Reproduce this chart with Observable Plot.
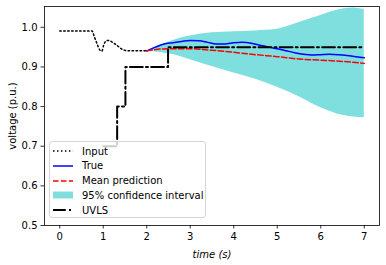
<!DOCTYPE html>
<html><head><meta charset="utf-8">
<script src="https://cdn.jsdelivr.net/npm/d3@7"></script>
<script src="https://cdn.jsdelivr.net/npm/@observablehq/plot@0.6"></script>
<style>
body{margin:0;background:#fff;font-family:"DejaVu Sans",sans-serif;}
#wrap{position:relative;width:386px;height:265px;}
#legend{position:absolute;left:49px;top:141px;width:157px;height:77px;background:rgba(255,255,255,0.8);border:1px solid #d6d6d6;border-radius:3px;box-sizing:border-box;font-size:10px;color:#000;}
.row{position:absolute;left:0;height:14px;display:flex;align-items:center;}
.row svg{margin-left:3px;width:20px;height:10px;}
.row span{margin-left:9px;white-space:nowrap;}
</style>
</head><body>
<div id="wrap"><div id="chart"></div><div id="legend"></div></div>
<script>
// Input (dotted)
const inputT = [0, 0.74, 0.80, 0.86, 0.92, 0.97, 1.01, 1.06, 1.12, 1.20, 1.32, 1.43, 1.55, 2.0];
const inputV = [0.991, 0.991, 0.975, 0.958, 0.943, 0.940, 0.955, 0.965, 0.967, 0.963, 0.954, 0.945, 0.941, 0.941];
// True
const trueT = [2.0, 2.2, 2.4, 2.6, 2.8, 3.0, 3.2, 3.4, 3.6, 3.8, 4.0, 4.2, 4.4, 4.6, 4.8, 5.0, 5.2, 5.4, 5.6, 5.8, 6.0, 6.2, 6.4, 6.6, 6.8, 7.0];
const trueV = [0.940, 0.950, 0.958, 0.961, 0.964, 0.967, 0.966, 0.962, 0.958, 0.958, 0.961, 0.962, 0.960, 0.955, 0.950, 0.946, 0.941, 0.936, 0.932, 0.930, 0.931, 0.932, 0.931, 0.929, 0.926, 0.923];
// Mean prediction
const meanT = [2.0, 2.5, 3.0, 3.5, 4.0, 4.5, 5.0, 5.5, 6.0, 6.5, 7.0];
const meanV = [0.941, 0.946, 0.946, 0.942, 0.937, 0.931, 0.926, 0.920, 0.917, 0.914, 0.909];
// 95% confidence interval
const bandT = [2.0, 2.25, 2.5, 2.75, 3.0, 3.5, 4.0, 4.5, 5.0, 5.5, 6.0, 6.5, 6.75, 7.0];
const bandLo = [0.940, 0.937, 0.933, 0.927, 0.918, 0.901, 0.885, 0.869, 0.849, 0.825, 0.797, 0.778, 0.774, 0.772];
const bandHi = [0.940, 0.952, 0.963, 0.972, 0.978, 0.986, 0.989, 0.991, 0.995, 1.012, 1.030, 1.046, 1.049, 1.045];
// UVLS (step)
const uvlsT = [1.0, 1.32, 1.51, 2.49, 7.0];
const uvlsV = [0.70, 0.80, 0.90, 0.95, 0.95];
// ticks
const xTicks = [0, 1, 2, 3, 4, 5, 6, 7];
const yTicks = [0.5, 0.6, 0.7, 0.8, 0.9, 1.0];

const input = inputT.map((t, i) => ({t, v: inputV[i]}));
const tru = trueT.map((t, i) => ({t, v: trueV[i]}));
const mean = meanT.map((t, i) => ({t, v: meanV[i]}));
const band = bandT.map((t, i) => ({t, lo: bandLo[i], hi: bandHi[i]}));
const uvls = uvlsT.map((t, i) => ({t, v: uvlsV[i]}));

const svg = Plot.plot({
  width: 386, height: 265,
  marginLeft: 44, marginRight: 7, marginTop: 6, marginBottom: 40,
  style: {fontFamily: "DejaVu Sans", fontSize: "10px", background: "white", color: "black"},
  x: {domain: [-0.35, 7.35]},
  y: {domain: [0.5, 1.0525]},
  marks: [
    Plot.areaY(band, {x: "t", y1: "lo", y2: "hi", fill: "#00bfbf", fillOpacity: 0.5, curve: "monotone-x"}),
    Plot.line(input, {x: "t", y: "v", stroke: "black", strokeWidth: 1.5, strokeDasharray: "1.5,2.475", curve: "monotone-x"}),
    Plot.line(tru, {x: "t", y: "v", stroke: "#0000ff", strokeWidth: 1.5, curve: "monotone-x"}),
    Plot.line(mean, {x: "t", y: "v", stroke: "#ff0000", strokeWidth: 1.5, strokeDasharray: "5.55,2.4", curve: "monotone-x"}),
    Plot.line(uvls, {x: "t", y: "v", stroke: "black", strokeWidth: 2, strokeDasharray: "12.8,3.2,2,3.2", curve: "step-after"}),
    Plot.frame({stroke: "black", strokeWidth: 0.8}),
    Plot.axisX({ticks: xTicks, tickFormat: d => String(d), tickSize: 3.5, tickPadding: 3.5, strokeWidth: 0.8,
      label: "time (s)", labelAnchor: "center", labelArrow: "none", labelOffset: 32}),
    Plot.axisY({ticks: yTicks, tickFormat: d3.format(".1f"), tickSize: 3.5, tickPadding: 3.5, strokeWidth: 0.8,
      label: "voltage (p.u.)", labelAnchor: "center", labelArrow: "none", labelOffset: 36})
  ]
});
document.getElementById("chart").appendChild(svg);
const xl = svg.querySelector('g[aria-label="x-axis label"] text');
if (xl) xl.style.fontStyle = "italic";

// legend
const items = [
  {label: "Input", svg: '<line x1="0" y1="5" x2="20" y2="5" stroke="black" stroke-width="1.5" stroke-dasharray="1.5,2.475"/>'},
  {label: "True", svg: '<line x1="0" y1="5" x2="20" y2="5" stroke="#0000ff" stroke-width="1.5"/>'},
  {label: "Mean prediction", svg: '<line x1="0" y1="5" x2="20" y2="5" stroke="#ff0000" stroke-width="1.5" stroke-dasharray="5.55,2.4"/>'},
  {label: "95% confidence interval", svg: '<rect x="0" y="1.5" width="20" height="7" fill="#00bfbf" fill-opacity="0.5"/>'},
  {label: "UVLS", svg: '<line x1="0" y1="5" x2="20" y2="5" stroke="black" stroke-width="2" stroke-dasharray="12.8,3.2,2,3.2"/>'}
];
const leg = document.getElementById("legend");
items.forEach((it, i) => {
  const r = document.createElement("div");
  r.className = "row";
  r.style.top = (2 + i * 14.8) + "px";
  r.innerHTML = '<svg viewBox="0 0 20 10">' + it.svg + '</svg><span>' + it.label + '</span>';
  leg.appendChild(r);
});
</script>
</body></html>
